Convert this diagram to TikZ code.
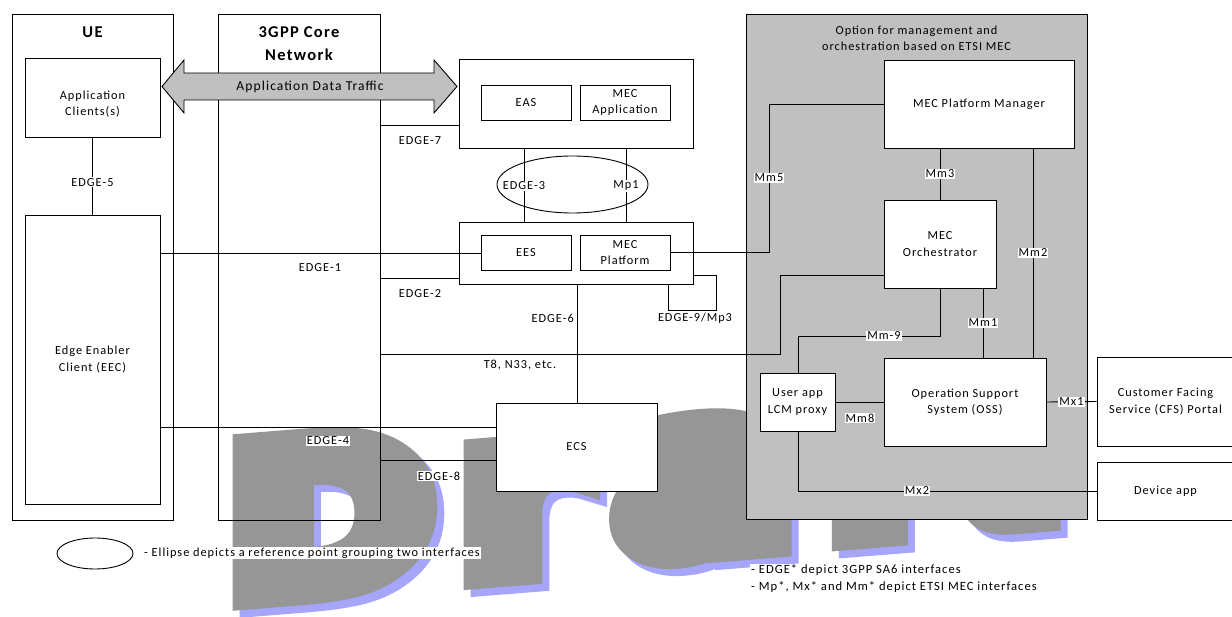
\documentclass[tikz,border=0pt]{standalone}
\usepackage{fontspec}
\setmainfont{Carlito}[LetterSpace=8]
\newfontfamily\wmfont{DejaVu Sans Bold}[FakeBold=14]
\usetikzlibrary{shapes.geometric,calc}
\definecolor{optgrey}{RGB}{192,192,192}
\definecolor{wmgrey}{RGB}{150,150,150}
\definecolor{wmblue}{RGB}{165,165,250}
\tikzset{
  box/.style={draw, line width=0.9pt, fill=white, inner sep=0pt, align=center, font=\fontsize{12.3}{16.5}\selectfont},
  frame/.style={draw, line width=0.9pt, inner sep=0pt},
  conn/.style={line width=0.9pt},
  lbl/.style={fill=white, inner sep=1pt, font=\fontsize{12.3}{14}\selectfont},
  plain/.style={inner sep=1pt, font=\fontsize{12.3}{16}\selectfont, align=center},
  title/.style={inner sep=0pt, font=\fontsize{16.5}{23}\selectfont\bfseries, align=center},
  wm/.style={inner sep=0pt, anchor=base west, yslant=0.08},
}
\begin{document}
\begin{tikzpicture}[x=1pt,y=-1pt]
\useasboundingbox (0,0) rectangle (1232,617);
% watermark "Draft"
\foreach \c/\dx in {wmblue/7, wmgrey/0}{
  \node[wm, text=\c, xscale=1.22, font=\fontsize{203}{203}\selectfont\wmfont] (wmD\c) at (227+\dx,597+\dx) {D};
  \node[wm, text=\c, xscale=1.14, font=\fontsize{219}{219}\selectfont\wmfont] (wmr\c) at (460+\dx,575+\dx) {r};
  \node[wm, text=\c, xscale=1.19, font=\fontsize{221}{221}\selectfont\wmfont] (wma\c) at (616+\dx,555+\dx) {a};
  \node[wm, text=\c, xscale=1.05, font=\fontsize{230}{230}\selectfont\wmfont] (wmf\c) at (823+\dx,536+\dx) {f};
  \node[wm, text=\c, xscale=0.92, font=\fontsize{235}{235}\selectfont\wmfont] (wmt\c) at (950+\dx,523+\dx) {t};
}
% large frames
\node[frame, minimum width=161, minimum height=506] (ue) at (92.5,267) {};
\node[title] (uet) at (92.5,32) {UE};
\node[frame, minimum width=162, minimum height=506] (core) at (299,267) {};
\node[title] (coret) at (299,44) {3GPP Core\\Network};
\node[frame, fill=optgrey, minimum width=341, minimum height=505] (opt) at (916.5,266.5) {};
\node[plain] (optt) at (916.5,38) {Option for management and\\orchestration based on ETSI MEC};
% UE
\node[box, minimum width=135, minimum height=79] (ac) at (92.5,97.5) {};
\node[plain] (act) at (92.5,104) {Application\\Clients(s)};
\node[box, minimum width=135, minimum height=289] (eec) at (92.5,359.5) {Edge Enabler\\Client (EEC)};
% application data traffic arrow
\coordinate (adtl) at (162,86.5);
\coordinate (adtr) at (457,86.5);
\draw[line width=0.9pt, fill=optgrey] (adtl) -- ++(22,-26.5) -- ++(0,13) -- ($(adtr)+(-23,-13.5)$) -- ++(0,-13) -- (adtr) -- ++(-23,26.5) -- ++(0,-13) -- ($(adtl)+(22,13.5)$) -- ++(0,13) -- cycle;
\node[plain, font=\fontsize{13.6}{16}\selectfont] (adt) at (310,87) {Application Data Traffic};
% EAS group
\node[box, minimum width=234, minimum height=89] (asrv) at (576,103.5) {};
\node[box, minimum width=90, minimum height=35] (eas) at (526,102.5) {EAS};
\node[box, minimum width=90, minimum height=35] (meca) at (625,102.5) {MEC\\Application};
\node[draw, ellipse, line width=0.9pt, minimum width=151, minimum height=57, inner sep=0pt] (ell) at (572.5,184.5) {};
\node[box, minimum width=234, minimum height=62] (plat) at (576,253) {};
\node[box, minimum width=90, minimum height=35] (ees) at (526,252.5) {EES};
\node[box, minimum width=90, minimum height=35] (mecp) at (625,252.5) {MEC\\Platform};
\node[box, minimum width=161, minimum height=88] (ecs) at (576.5,447) {ECS};
% MEC side
\node[box, minimum width=190, minimum height=88] (mpm) at (979,104) {MEC Platform Manager};
\node[box, minimum width=112, minimum height=88] (meco) at (940,244) {MEC\\Orchestrator};
\node[box, minimum width=162, minimum height=88] (oss) at (965,402) {Operation Support\\System (OSS)};
\node[box, minimum width=75, minimum height=58] (ulcm) at (797.5,402) {User app\\LCM proxy};
\node[box, minimum width=137, minimum height=89] (cfs) at (1165.5,401.5) {Customer Facing\\Service (CFS) Portal};
\node[box, minimum width=137, minimum height=58] (dev) at (1165.5,491) {Device app};
% connectors
\draw[conn] (ac.south) -- (eec.north) node[lbl, pos=0.58] (l5) {EDGE-5};
\draw[conn] (core.east |- 0,125) -- (asrv.west |- 0,125);
\node[plain] (l7) at (420,141) {EDGE-7};
\draw[conn] (eec.east |- 0,253) -- (ees.west |- 0,253);
\node[plain] (l1) at (320,268) {EDGE-1};
\draw[conn] (core.east |- 0,278) -- (plat.west |- 0,278);
\node[plain] (l2) at (420,294) {EDGE-2};
\draw[conn] (asrv.south -| 524,0) -- (plat.north -| 524,0);
\draw[conn] (asrv.south -| 626,0) -- (plat.north -| 626,0);
\node[lbl] (l3) at (524,186) {EDGE-3};
\node[lbl] (lmp1) at (626,186) {Mp1};
\draw[conn] (plat.south -| 577,0) -- (ecs.north -| 577,0);
\node[plain, anchor=east] (l6) at (575,318) {EDGE-6};
\draw[conn] (plat.east |- 0,275) -| (716,310) -| (plat.south -| 668,0);
\node[lbl] (l9) at (695,318) {EDGE-9/Mp3};
\draw[conn] (mecp.east) -- (769,252.5) |- (mpm.west);
\node[lbl] (lmm5) at (769,178) {Mm5};
\draw[conn] (core.east |- 0,354) -- (780,354) |- (meco.west |- 0,275);
\node[plain] (lt8) at (520,365) {T8, N33, etc.};
\draw[conn] (mpm.south -| 940,0) -- (meco.north -| 940,0) node[lbl, midway] (lmm3) {Mm3};
\draw[conn] (mpm.south -| 1033,0) -- (oss.north -| 1033,0);
\node[lbl] (lmm2) at (1033,253) {Mm2};
\draw[conn] (meco.south -| 983,0) -- (oss.north -| 983,0) node[lbl, midway] (lmm1) {Mm1};
\draw[conn] (meco.south -| 940,0) -- (940,336) -| (ulcm.north -| 798,0);
\node[lbl] (lmm9) at (884,336) {Mm-9};
\draw[conn] (ulcm.east) -- (oss.west);
\node[lbl] (lmm8) at (860,418) {Mm8};
\draw[conn] (oss.east) -- (cfs.west) node[lbl, midway] (lmx1) {Mx1};
\draw[conn] (ulcm.south -| 798,0) |- (dev.west);
\node[lbl] (lmx2) at (917,491) {Mx2};
\draw[conn] (eec.east |- 0,427) -- (ecs.west |- 0,427);
\node[lbl] (l4) at (328,441) {EDGE-4};
\draw[conn] (core.east |- 0,460) -- (ecs.west |- 0,460);
\node[lbl] (l8) at (439,476) {EDGE-8};
% legend
\node[draw, ellipse, line width=0.9pt, minimum width=76, minimum height=31, inner sep=0pt] (lege) at (95,553.5) {};
\node[lbl, anchor=west] (legt) at (143,553) {- Ellipse depicts a reference point grouping two interfaces};
\node[lbl, anchor=west, align=left, font=\fontsize{12.6}{16.5}\selectfont] (notes) at (750,578.5) {- EDGE* depict 3GPP SA6 interfaces\\- Mp*, Mx* and Mm* depict ETSI MEC interfaces};
\end{tikzpicture}
\end{document}
